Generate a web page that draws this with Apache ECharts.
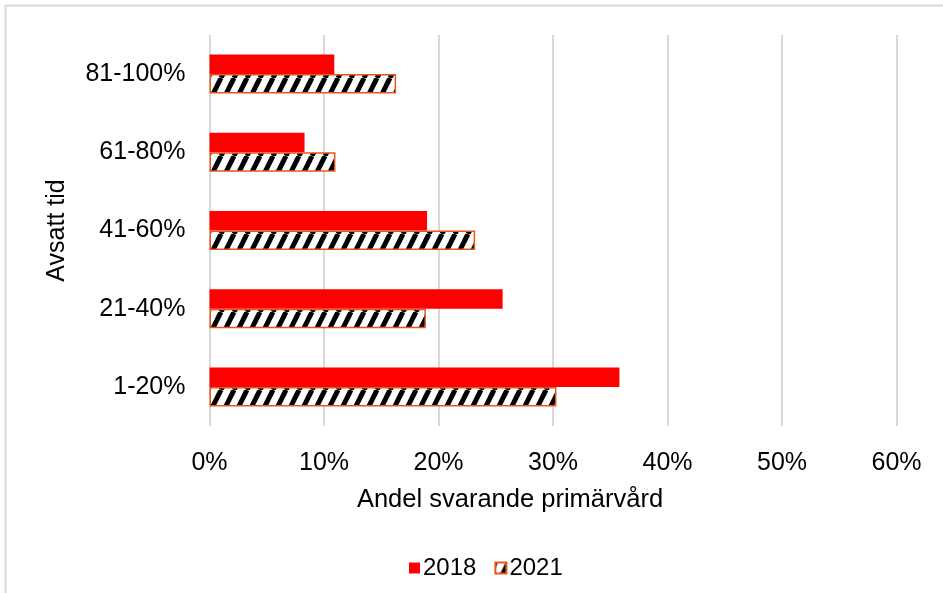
<!DOCTYPE html>
<html>
<head>
<meta charset="utf-8">
<script src="https://cdn.jsdelivr.net/npm/echarts@6/dist/echarts.min.js"></script>
<style>
html,body{margin:0;padding:0;background:#fff;}
#c{width:943px;height:593px;}
</style>
</head>
<body>
<div id="c"></div>
<script>
// Data
var categories = ['1-20%', '21-40%', '41-60%', '61-80%', '81-100%'];
var seriesNames = ['2018', '2021'];
var values2018 = [35.8, 25.6, 19.0, 8.3, 10.9];
var values2021 = [30.3, 18.9, 23.2, 11.0, 16.3];
var xTicks = [0, 10, 20, 30, 40, 50, 60];

// Hatch pattern (wide upward diagonal stripes)
function makeHatch() {
  var W = 12.6, H = 26;
  var cv = document.createElement('canvas');
  cv.width = Math.round(W); cv.height = H;
  W = cv.width;
  var ctx = cv.getContext('2d');
  ctx.fillStyle = '#ffffff';
  ctx.fillRect(0, 0, W, H);
  ctx.strokeStyle = '#000000';
  ctx.lineWidth = 5;
  for (var k = -1; k <= 1; k++) {
    ctx.beginPath();
    ctx.moveTo(k * W, H);
    ctx.lineTo(k * W + W, 0);
    ctx.stroke();
  }
  return cv;
}
var hatch = makeHatch();

var chart = echarts.init(document.getElementById('c'), null, {renderer: 'canvas'});
var font = '"Liberation Sans", Arial, sans-serif';
chart.setOption({
  animation: false,
  backgroundColor: '#ffffff',
  textStyle: {fontFamily: font},
  graphic: [{
    type: 'rect',
    shape: {x: 5.5, y: 5.5, width: 1000, height: 1000},
    style: {fill: 'none', stroke: '#d9d9d9', lineWidth: 2},
    silent: true, z: -1
  }],
  grid: {left: 209.5, right: 46.5, top: 35, bottom: 167, containLabel: false},
  legend: {
    data: [{name: seriesNames[0], icon: 'rect'}, {name: seriesNames[1], icon: 'rect'}],
    left: 404,
    top: 551,
    itemWidth: 11,
    itemHeight: 11,
    itemGap: 18,
    textStyle: {fontFamily: font, fontSize: 24, color: '#000', padding: [0, 0, 0, -2]}
  },
  xAxis: {
    type: 'value',
    min: xTicks[0],
    max: xTicks[xTicks.length - 1],
    interval: 10,
    name: 'Andel svarande primärvård',
    nameLocation: 'middle',
    nameGap: 61,
    nameTextStyle: {fontFamily: font, fontSize: 25.5, color: '#000', padding: [0, 86, 0, 0]},
    axisLine: {show: false},
    axisTick: {show: false},
    axisLabel: {formatter: '{value}%', fontFamily: font, fontSize: 25, color: '#000', margin: 25},
    splitLine: {show: true, lineStyle: {color: '#d9d9d9', width: 2}}
  },
  yAxis: {
    type: 'category',
    data: categories,
    name: 'Avsatt tid',
    nameLocation: 'middle',
    nameGap: 140,
    nameRotate: 90,
    nameTextStyle: {fontFamily: font, fontSize: 25, color: '#000'},
    axisLine: {show: false},
    axisTick: {show: false},
    axisLabel: {fontFamily: font, fontSize: 25, color: '#000', margin: 24},
    splitLine: {show: false}
  },
  series: [{
    name: seriesNames[0],
    type: 'bar',
    data: values2018,
    barWidth: 19.5,
    barGap: '0%',
    itemStyle: {color: '#ff0000'}
  }, {
    name: seriesNames[1],
    type: 'bar',
    data: values2021,
    barWidth: 19.5,
    barGap: '0%',
    itemStyle: {color: {image: hatch, repeat: 'repeat'}, borderColor: '#e9561d', borderWidth: 1.5}
  }]
});
</script>
</body>
</html>
